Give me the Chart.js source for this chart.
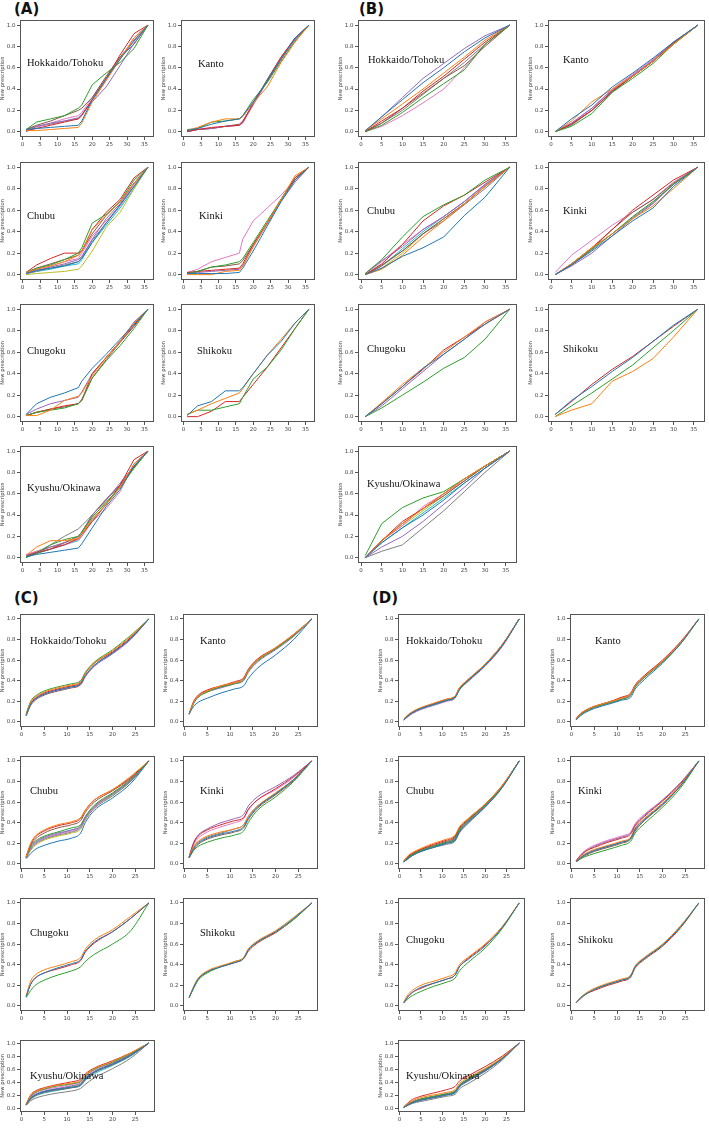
<!DOCTYPE html>
<html>
<head>
<meta charset="utf-8">
<script src="https://cdn.jsdelivr.net/npm/chart.js@4.4.1/dist/chart.umd.min.js"></script>
<style>
  body { margin: 0; background: #fff; width: 709px; height: 1128px; position: relative; overflow: hidden; }
  canvas { position: absolute; }
  .tag { position: absolute; font: bold 15px "DejaVu Sans", sans-serif; color: #111; }
</style>
</head>
<body>
<div class="tag" style="left:14px;top:0px">(A)</div>
<div class="tag" style="left:359px;top:0px">(B)</div>
<div class="tag" style="left:14px;top:589px">(C)</div>
<div class="tag" style="left:372px;top:589px">(D)</div>
<script>
// matplotlib default colour cycle
const TAB = ["#1f77b4", "#ff7f0e", "#2ca02c", "#d62728", "#9467bd", "#8c564b", "#e377c2", "#7f7f7f", "#bcbd22", "#17becf"];

const xA = [1, 4, 8, 12, 16, 17, 20, 24, 28, 32, 36];
const xB = [1, 5, 10, 15, 20, 25, 30, 36];
const xC = [1, 2, 3, 5, 8, 11, 13, 14, 16, 20, 24, 28];
const xD = xC;

const yTicks = [0, 0.2, 0.4, 0.6, 0.8, 1.0];
const xTicks36 = [0, 5, 10, 15, 20, 25, 30, 35];
const xTicks28 = [0, 5, 10, 15, 20, 25];

// ---- panel A ----
const aHokkaido = [
  [0.02, 0.03, 0.04, 0.05, 0.06, 0.10, 0.30, 0.50, 0.68, 0.85, 1],
  [0.01, 0.01, 0.02, 0.03, 0.04, 0.08, 0.28, 0.48, 0.68, 0.88, 1],
  [0.02, 0.09, 0.12, 0.15, 0.22, 0.25, 0.44, 0.55, 0.65, 0.78, 1],
  [0.01, 0.03, 0.06, 0.09, 0.12, 0.15, 0.30, 0.50, 0.72, 0.92, 1],
  [0.00, 0.05, 0.08, 0.10, 0.13, 0.16, 0.28, 0.42, 0.62, 0.83, 1],
  [0.02, 0.06, 0.10, 0.15, 0.20, 0.22, 0.32, 0.52, 0.70, 0.82, 1],
  [0.00, 0.04, 0.08, 0.12, 0.15, 0.18, 0.32, 0.50, 0.68, 0.88, 1],
  [0.02, 0.05, 0.07, 0.10, 0.12, 0.16, 0.30, 0.48, 0.70, 0.86, 1]
];
const aKanto = [
  [0.01, 0.03, 0.07, 0.10, 0.12, 0.15, 0.28, 0.48, 0.68, 0.88, 1],
  [0.01, 0.04, 0.09, 0.12, 0.12, 0.14, 0.27, 0.42, 0.65, 0.84, 1],
  [0.02, 0.03, 0.09, 0.10, 0.12, 0.15, 0.30, 0.46, 0.66, 0.85, 1],
  [0.00, 0.02, 0.04, 0.05, 0.06, 0.09, 0.27, 0.48, 0.70, 0.88, 1],
  [0.00, 0.02, 0.03, 0.05, 0.06, 0.09, 0.26, 0.47, 0.68, 0.87, 1],
  [0.01, 0.02, 0.03, 0.05, 0.07, 0.10, 0.26, 0.49, 0.70, 0.87, 1],
  [0.00, 0.02, 0.03, 0.05, 0.06, 0.08, 0.25, 0.47, 0.68, 0.86, 1]
];
const aChubu = [
  [0.01, 0.04, 0.06, 0.08, 0.12, 0.15, 0.30, 0.48, 0.65, 0.82, 1],
  [0.02, 0.05, 0.08, 0.12, 0.18, 0.22, 0.42, 0.55, 0.68, 0.85, 1],
  [0.02, 0.06, 0.09, 0.14, 0.20, 0.25, 0.48, 0.56, 0.68, 0.88, 1],
  [0.02, 0.09, 0.15, 0.20, 0.20, 0.22, 0.42, 0.58, 0.70, 0.90, 1],
  [0.01, 0.04, 0.07, 0.10, 0.14, 0.17, 0.33, 0.52, 0.66, 0.85, 1],
  [0.02, 0.06, 0.10, 0.14, 0.18, 0.22, 0.38, 0.55, 0.68, 0.85, 1],
  [0.01, 0.05, 0.08, 0.12, 0.15, 0.20, 0.36, 0.50, 0.64, 0.84, 1],
  [0.01, 0.03, 0.06, 0.09, 0.12, 0.16, 0.32, 0.48, 0.64, 0.82, 1],
  [0.00, 0.01, 0.02, 0.03, 0.05, 0.08, 0.22, 0.44, 0.58, 0.80, 1],
  [0.01, 0.03, 0.05, 0.08, 0.10, 0.14, 0.30, 0.46, 0.62, 0.80, 1]
];
const aKinki = [
  [0.01, 0.01, 0.01, 0.01, 0.02, 0.06, 0.22, 0.45, 0.68, 0.88, 1],
  [0.00, 0.00, 0.00, 0.03, 0.04, 0.08, 0.26, 0.48, 0.70, 0.92, 1],
  [0.01, 0.03, 0.07, 0.09, 0.12, 0.15, 0.30, 0.50, 0.70, 0.88, 1],
  [0.02, 0.03, 0.04, 0.05, 0.06, 0.10, 0.28, 0.48, 0.70, 0.90, 1],
  [0.02, 0.02, 0.03, 0.04, 0.05, 0.08, 0.26, 0.47, 0.68, 0.86, 1],
  [0.01, 0.03, 0.07, 0.08, 0.10, 0.13, 0.28, 0.48, 0.70, 0.90, 1],
  [0.02, 0.05, 0.12, 0.16, 0.20, 0.33, 0.50, 0.62, 0.74, 0.88, 1]
];
const aChugoku = [
  [0.02, 0.12, 0.18, 0.22, 0.27, 0.33, 0.45, 0.58, 0.72, 0.86, 1],
  [0.01, 0.01, 0.06, 0.15, 0.19, 0.22, 0.38, 0.55, 0.70, 0.87, 1],
  [0.01, 0.04, 0.06, 0.08, 0.12, 0.16, 0.36, 0.52, 0.66, 0.82, 1],
  [0.01, 0.04, 0.07, 0.10, 0.12, 0.15, 0.40, 0.55, 0.70, 0.85, 1],
  [0.02, 0.07, 0.12, 0.15, 0.18, 0.23, 0.40, 0.55, 0.70, 0.88, 1],
  [0.01, 0.04, 0.07, 0.09, 0.12, 0.15, 0.36, 0.53, 0.69, 0.84, 1]
];
const aShikoku = [
  [0.01, 0.10, 0.14, 0.24, 0.24, 0.27, 0.40, 0.57, 0.70, 0.87, 1],
  [0.02, 0.06, 0.12, 0.17, 0.22, 0.26, 0.40, 0.57, 0.72, 0.87, 1],
  [0.02, 0.06, 0.06, 0.09, 0.12, 0.18, 0.35, 0.46, 0.62, 0.82, 1],
  [0.00, 0.00, 0.05, 0.14, 0.14, 0.18, 0.30, 0.46, 0.64, 0.82, 1]
];
const aKyushu = [
  [0.01, 0.03, 0.05, 0.07, 0.09, 0.13, 0.28, 0.48, 0.64, 0.86, 1],
  [0.02, 0.10, 0.16, 0.16, 0.18, 0.22, 0.36, 0.50, 0.66, 0.88, 1],
  [0.00, 0.04, 0.12, 0.17, 0.20, 0.24, 0.38, 0.52, 0.66, 0.84, 1],
  [0.01, 0.05, 0.08, 0.12, 0.18, 0.22, 0.34, 0.50, 0.68, 0.92, 1],
  [0.02, 0.05, 0.10, 0.14, 0.20, 0.24, 0.40, 0.54, 0.70, 0.86, 1],
  [0.01, 0.04, 0.08, 0.14, 0.20, 0.24, 0.40, 0.55, 0.68, 0.85, 1],
  [0.03, 0.06, 0.10, 0.12, 0.17, 0.20, 0.34, 0.46, 0.62, 0.88, 1],
  [0.02, 0.05, 0.12, 0.20, 0.27, 0.30, 0.40, 0.54, 0.68, 0.86, 1],
  [0.02, 0.06, 0.10, 0.14, 0.18, 0.22, 0.38, 0.52, 0.66, 0.84, 1],
  [0.01, 0.04, 0.08, 0.12, 0.16, 0.20, 0.36, 0.50, 0.66, 0.85, 1]
];

// ---- panel B ----
const bHokkaido = [
  [0.01, 0.14, 0.30, 0.46, 0.60, 0.75, 0.88, 1],
  [0.01, 0.12, 0.26, 0.40, 0.55, 0.70, 0.86, 1],
  [0.00, 0.06, 0.18, 0.32, 0.45, 0.58, 0.82, 1],
  [0.00, 0.10, 0.22, 0.38, 0.52, 0.68, 0.84, 1],
  [0.00, 0.14, 0.32, 0.50, 0.64, 0.78, 0.90, 1],
  [0.00, 0.08, 0.22, 0.36, 0.50, 0.62, 0.80, 1],
  [0.00, 0.05, 0.15, 0.27, 0.40, 0.60, 0.82, 1],
  [0.00, 0.08, 0.20, 0.35, 0.50, 0.65, 0.82, 1]
];
const bKanto = [
  [0.00, 0.12, 0.25, 0.42, 0.55, 0.69, 0.84, 1],
  [0.00, 0.10, 0.28, 0.40, 0.52, 0.66, 0.82, 1],
  [0.00, 0.05, 0.17, 0.37, 0.50, 0.64, 0.82, 1],
  [0.00, 0.07, 0.20, 0.38, 0.52, 0.66, 0.83, 1],
  [0.00, 0.08, 0.22, 0.39, 0.53, 0.67, 0.84, 1],
  [0.00, 0.07, 0.20, 0.37, 0.52, 0.66, 0.83, 1],
  [0.00, 0.08, 0.22, 0.40, 0.54, 0.68, 0.84, 1],
  [0.00, 0.06, 0.20, 0.38, 0.52, 0.66, 0.82, 1]
];
const bChubu = [
  [0.00, 0.06, 0.17, 0.25, 0.35, 0.55, 0.72, 1],
  [0.00, 0.05, 0.18, 0.35, 0.50, 0.66, 0.82, 1],
  [0.01, 0.14, 0.35, 0.54, 0.65, 0.74, 0.88, 1],
  [0.00, 0.10, 0.28, 0.50, 0.64, 0.74, 0.86, 1],
  [0.01, 0.13, 0.26, 0.42, 0.54, 0.68, 0.84, 1],
  [0.00, 0.09, 0.22, 0.38, 0.52, 0.66, 0.82, 1],
  [0.01, 0.12, 0.28, 0.42, 0.54, 0.68, 0.83, 1],
  [0.00, 0.08, 0.22, 0.38, 0.50, 0.65, 0.80, 1],
  [0.00, 0.06, 0.20, 0.38, 0.52, 0.66, 0.82, 1],
  [0.00, 0.08, 0.24, 0.40, 0.54, 0.68, 0.84, 1]
];
const bKinki = [
  [0.00, 0.09, 0.22, 0.36, 0.50, 0.62, 0.82, 1],
  [0.00, 0.10, 0.25, 0.38, 0.52, 0.64, 0.80, 1],
  [0.00, 0.10, 0.24, 0.38, 0.54, 0.68, 0.84, 1],
  [0.00, 0.10, 0.25, 0.42, 0.60, 0.74, 0.88, 1],
  [0.00, 0.08, 0.20, 0.36, 0.52, 0.66, 0.84, 1],
  [0.00, 0.09, 0.24, 0.42, 0.58, 0.70, 0.85, 1],
  [0.02, 0.18, 0.32, 0.46, 0.58, 0.70, 0.86, 1],
  [0.00, 0.09, 0.23, 0.38, 0.53, 0.67, 0.84, 1]
];
const bChugoku = [
  [0.00, 0.12, 0.28, 0.45, 0.58, 0.72, 0.86, 1],
  [0.00, 0.13, 0.30, 0.45, 0.60, 0.74, 0.88, 1],
  [0.00, 0.08, 0.20, 0.32, 0.45, 0.55, 0.72, 1],
  [0.00, 0.12, 0.28, 0.44, 0.62, 0.74, 0.86, 1],
  [0.00, 0.10, 0.26, 0.42, 0.58, 0.72, 0.88, 1]
];
const bShikoku = [
  [0.02, 0.15, 0.28, 0.42, 0.55, 0.70, 0.85, 1],
  [0.00, 0.06, 0.12, 0.33, 0.42, 0.54, 0.74, 1],
  [0.00, 0.10, 0.22, 0.35, 0.48, 0.64, 0.80, 1],
  [0.02, 0.14, 0.30, 0.44, 0.56, 0.70, 0.84, 1]
];
const bKyushu = [
  [0.00, 0.14, 0.28, 0.40, 0.54, 0.70, 0.84, 1],
  [0.00, 0.16, 0.32, 0.46, 0.60, 0.74, 0.86, 1],
  [0.02, 0.32, 0.47, 0.56, 0.62, 0.74, 0.86, 1],
  [0.00, 0.16, 0.34, 0.46, 0.60, 0.74, 0.86, 1],
  [0.00, 0.10, 0.20, 0.34, 0.50, 0.66, 0.84, 1],
  [0.00, 0.16, 0.32, 0.46, 0.58, 0.72, 0.86, 1],
  [0.00, 0.16, 0.30, 0.48, 0.60, 0.72, 0.86, 1],
  [0.00, 0.06, 0.12, 0.28, 0.44, 0.62, 0.80, 1],
  [0.00, 0.16, 0.30, 0.44, 0.58, 0.72, 0.86, 1],
  [0.00, 0.14, 0.28, 0.42, 0.56, 0.70, 0.84, 1]
];

// ---- panel C ----
const cHokkaido = [
  [0.06, 0.17, 0.22, 0.27, 0.31, 0.34, 0.37, 0.45, 0.55, 0.67, 0.81, 1],
  [0.07, 0.19, 0.24, 0.29, 0.33, 0.36, 0.39, 0.47, 0.57, 0.69, 0.83, 1],
  [0.08, 0.20, 0.25, 0.30, 0.34, 0.37, 0.40, 0.48, 0.58, 0.70, 0.84, 1],
  [0.07, 0.18, 0.23, 0.28, 0.32, 0.35, 0.38, 0.47, 0.57, 0.68, 0.82, 1],
  [0.06, 0.17, 0.22, 0.27, 0.31, 0.34, 0.37, 0.44, 0.54, 0.66, 0.80, 1],
  [0.06, 0.16, 0.21, 0.26, 0.30, 0.33, 0.36, 0.44, 0.55, 0.67, 0.81, 1]
];
const cKanto = [
  [0.08, 0.15, 0.19, 0.23, 0.28, 0.32, 0.35, 0.42, 0.52, 0.65, 0.80, 1],
  [0.08, 0.19, 0.25, 0.30, 0.35, 0.38, 0.42, 0.50, 0.60, 0.72, 0.85, 1],
  [0.08, 0.18, 0.24, 0.29, 0.34, 0.37, 0.41, 0.49, 0.59, 0.71, 0.84, 1],
  [0.08, 0.20, 0.26, 0.31, 0.35, 0.39, 0.43, 0.51, 0.61, 0.72, 0.85, 1],
  [0.07, 0.18, 0.24, 0.29, 0.33, 0.37, 0.40, 0.48, 0.58, 0.70, 0.83, 1],
  [0.08, 0.19, 0.25, 0.30, 0.34, 0.38, 0.42, 0.50, 0.60, 0.71, 0.84, 1]
];
const cChubu = [
  [0.05, 0.10, 0.14, 0.18, 0.22, 0.25, 0.30, 0.40, 0.52, 0.64, 0.78, 1],
  [0.07, 0.20, 0.27, 0.33, 0.38, 0.41, 0.45, 0.52, 0.62, 0.72, 0.85, 1],
  [0.07, 0.17, 0.22, 0.27, 0.31, 0.35, 0.38, 0.46, 0.57, 0.69, 0.82, 1],
  [0.07, 0.19, 0.26, 0.32, 0.37, 0.40, 0.44, 0.52, 0.62, 0.72, 0.84, 1],
  [0.06, 0.16, 0.21, 0.26, 0.30, 0.33, 0.37, 0.45, 0.56, 0.68, 0.81, 1],
  [0.07, 0.18, 0.24, 0.30, 0.35, 0.38, 0.42, 0.50, 0.60, 0.71, 0.83, 1],
  [0.06, 0.15, 0.20, 0.25, 0.29, 0.32, 0.36, 0.44, 0.55, 0.68, 0.82, 1],
  [0.06, 0.14, 0.19, 0.24, 0.28, 0.31, 0.35, 0.43, 0.54, 0.66, 0.80, 1],
  [0.06, 0.13, 0.18, 0.23, 0.27, 0.30, 0.34, 0.43, 0.55, 0.67, 0.81, 1],
  [0.06, 0.15, 0.20, 0.25, 0.29, 0.33, 0.36, 0.44, 0.55, 0.67, 0.80, 1]
];
const cKinki = [
  [0.06, 0.15, 0.20, 0.25, 0.29, 0.32, 0.36, 0.44, 0.55, 0.68, 0.82, 1],
  [0.07, 0.17, 0.22, 0.27, 0.31, 0.34, 0.38, 0.46, 0.56, 0.69, 0.82, 1],
  [0.06, 0.13, 0.17, 0.21, 0.25, 0.28, 0.32, 0.40, 0.52, 0.65, 0.80, 1],
  [0.07, 0.20, 0.27, 0.33, 0.38, 0.42, 0.45, 0.53, 0.62, 0.73, 0.85, 1],
  [0.07, 0.21, 0.28, 0.34, 0.40, 0.44, 0.48, 0.56, 0.65, 0.75, 0.86, 1],
  [0.06, 0.14, 0.19, 0.24, 0.28, 0.31, 0.35, 0.43, 0.54, 0.67, 0.81, 1],
  [0.07, 0.19, 0.25, 0.31, 0.36, 0.40, 0.44, 0.52, 0.62, 0.72, 0.84, 1],
  [0.06, 0.16, 0.21, 0.26, 0.30, 0.34, 0.38, 0.46, 0.56, 0.68, 0.82, 1]
];
const cChugoku = [
  [0.09, 0.21, 0.27, 0.32, 0.37, 0.41, 0.45, 0.53, 0.62, 0.72, 0.85, 1],
  [0.10, 0.24, 0.30, 0.35, 0.39, 0.43, 0.47, 0.55, 0.64, 0.74, 0.87, 1],
  [0.08, 0.15, 0.20, 0.25, 0.30, 0.34, 0.38, 0.43, 0.50, 0.60, 0.73, 1],
  [0.09, 0.21, 0.27, 0.32, 0.36, 0.40, 0.44, 0.52, 0.61, 0.72, 0.85, 1]
];
const cShikoku = [
  [0.08, 0.18, 0.26, 0.33, 0.38, 0.42, 0.46, 0.54, 0.62, 0.72, 0.85, 1],
  [0.08, 0.19, 0.27, 0.34, 0.39, 0.43, 0.47, 0.55, 0.63, 0.73, 0.86, 1],
  [0.08, 0.17, 0.25, 0.32, 0.38, 0.43, 0.47, 0.55, 0.62, 0.72, 0.84, 1],
  [0.08, 0.18, 0.26, 0.33, 0.38, 0.42, 0.46, 0.53, 0.61, 0.71, 0.84, 1]
];
const cKyushu = [
  [0.06, 0.16, 0.21, 0.26, 0.30, 0.33, 0.37, 0.46, 0.56, 0.68, 0.82, 1],
  [0.07, 0.20, 0.26, 0.31, 0.36, 0.39, 0.43, 0.51, 0.61, 0.72, 0.85, 1],
  [0.07, 0.19, 0.25, 0.30, 0.35, 0.38, 0.42, 0.50, 0.60, 0.71, 0.84, 1],
  [0.07, 0.21, 0.27, 0.32, 0.37, 0.41, 0.45, 0.53, 0.62, 0.73, 0.85, 1],
  [0.06, 0.17, 0.22, 0.27, 0.31, 0.35, 0.39, 0.47, 0.57, 0.69, 0.82, 1],
  [0.06, 0.15, 0.20, 0.25, 0.29, 0.32, 0.36, 0.44, 0.55, 0.67, 0.81, 1],
  [0.07, 0.18, 0.24, 0.29, 0.33, 0.37, 0.41, 0.49, 0.59, 0.70, 0.83, 1],
  [0.05, 0.12, 0.16, 0.20, 0.24, 0.27, 0.31, 0.37, 0.47, 0.61, 0.77, 1],
  [0.06, 0.16, 0.21, 0.26, 0.30, 0.34, 0.38, 0.46, 0.56, 0.68, 0.82, 1],
  [0.06, 0.14, 0.19, 0.24, 0.28, 0.32, 0.35, 0.43, 0.53, 0.66, 0.80, 1]
];

// ---- panel D ----
const dHokkaido = [
  [0.02, 0.06, 0.09, 0.13, 0.17, 0.21, 0.24, 0.31, 0.40, 0.55, 0.74, 1],
  [0.03, 0.07, 0.10, 0.14, 0.18, 0.22, 0.25, 0.33, 0.41, 0.56, 0.75, 1],
  [0.02, 0.06, 0.09, 0.13, 0.17, 0.21, 0.24, 0.32, 0.40, 0.55, 0.74, 1],
  [0.02, 0.06, 0.09, 0.13, 0.18, 0.22, 0.25, 0.33, 0.41, 0.56, 0.75, 1],
  [0.02, 0.05, 0.08, 0.12, 0.16, 0.20, 0.23, 0.31, 0.39, 0.54, 0.73, 1],
  [0.02, 0.06, 0.09, 0.13, 0.17, 0.21, 0.24, 0.32, 0.40, 0.55, 0.74, 1]
];
const dKanto = [
  [0.02, 0.06, 0.09, 0.13, 0.17, 0.21, 0.24, 0.32, 0.41, 0.57, 0.76, 1],
  [0.03, 0.08, 0.11, 0.15, 0.19, 0.23, 0.27, 0.35, 0.44, 0.59, 0.77, 1],
  [0.02, 0.07, 0.10, 0.14, 0.18, 0.22, 0.26, 0.34, 0.43, 0.58, 0.76, 1],
  [0.03, 0.08, 0.11, 0.15, 0.19, 0.24, 0.28, 0.36, 0.45, 0.60, 0.78, 1],
  [0.02, 0.07, 0.10, 0.14, 0.18, 0.22, 0.26, 0.34, 0.43, 0.58, 0.77, 1],
  [0.03, 0.08, 0.11, 0.15, 0.19, 0.23, 0.27, 0.35, 0.44, 0.59, 0.77, 1]
];
const dChubu = [
  [0.02, 0.05, 0.08, 0.12, 0.16, 0.20, 0.23, 0.31, 0.40, 0.55, 0.74, 1],
  [0.03, 0.08, 0.11, 0.15, 0.20, 0.24, 0.28, 0.36, 0.44, 0.58, 0.76, 1],
  [0.02, 0.06, 0.09, 0.13, 0.17, 0.21, 0.25, 0.33, 0.42, 0.57, 0.75, 1],
  [0.03, 0.07, 0.10, 0.14, 0.19, 0.23, 0.27, 0.35, 0.43, 0.58, 0.76, 1],
  [0.02, 0.06, 0.09, 0.13, 0.17, 0.21, 0.24, 0.32, 0.41, 0.56, 0.75, 1],
  [0.02, 0.07, 0.10, 0.14, 0.18, 0.22, 0.26, 0.34, 0.42, 0.57, 0.75, 1],
  [0.02, 0.06, 0.09, 0.13, 0.17, 0.21, 0.25, 0.33, 0.42, 0.57, 0.76, 1],
  [0.02, 0.05, 0.08, 0.12, 0.16, 0.19, 0.22, 0.30, 0.39, 0.55, 0.74, 1],
  [0.02, 0.05, 0.08, 0.12, 0.16, 0.20, 0.23, 0.31, 0.40, 0.56, 0.75, 1],
  [0.02, 0.06, 0.09, 0.13, 0.17, 0.20, 0.24, 0.32, 0.41, 0.56, 0.75, 1]
];
const dKinki = [
  [0.02, 0.06, 0.09, 0.13, 0.17, 0.21, 0.25, 0.34, 0.43, 0.58, 0.76, 1],
  [0.02, 0.07, 0.10, 0.14, 0.18, 0.22, 0.26, 0.35, 0.44, 0.59, 0.77, 1],
  [0.02, 0.05, 0.07, 0.10, 0.14, 0.18, 0.22, 0.30, 0.39, 0.55, 0.74, 1],
  [0.03, 0.08, 0.12, 0.16, 0.21, 0.25, 0.29, 0.37, 0.46, 0.61, 0.78, 1],
  [0.03, 0.08, 0.12, 0.17, 0.22, 0.26, 0.30, 0.38, 0.47, 0.62, 0.79, 1],
  [0.02, 0.05, 0.08, 0.12, 0.16, 0.20, 0.24, 0.32, 0.42, 0.57, 0.76, 1],
  [0.03, 0.09, 0.13, 0.18, 0.23, 0.27, 0.31, 0.39, 0.48, 0.62, 0.79, 1],
  [0.02, 0.06, 0.09, 0.13, 0.17, 0.21, 0.25, 0.33, 0.42, 0.58, 0.76, 1]
];
const dChugoku = [
  [0.03, 0.09, 0.13, 0.18, 0.22, 0.26, 0.30, 0.38, 0.45, 0.58, 0.76, 1],
  [0.04, 0.11, 0.15, 0.20, 0.24, 0.28, 0.32, 0.40, 0.47, 0.60, 0.77, 1],
  [0.03, 0.07, 0.10, 0.14, 0.19, 0.23, 0.27, 0.34, 0.42, 0.56, 0.75, 1],
  [0.03, 0.09, 0.13, 0.17, 0.22, 0.26, 0.30, 0.38, 0.46, 0.59, 0.76, 1]
];
const dShikoku = [
  [0.03, 0.08, 0.11, 0.16, 0.21, 0.25, 0.29, 0.38, 0.46, 0.59, 0.77, 1],
  [0.03, 0.08, 0.12, 0.17, 0.22, 0.26, 0.30, 0.39, 0.47, 0.60, 0.78, 1],
  [0.03, 0.08, 0.11, 0.16, 0.21, 0.25, 0.29, 0.38, 0.46, 0.59, 0.77, 1],
  [0.03, 0.07, 0.11, 0.15, 0.20, 0.24, 0.28, 0.37, 0.45, 0.58, 0.76, 1]
];
const dKyushu = [
  [0.02, 0.06, 0.09, 0.13, 0.17, 0.21, 0.25, 0.34, 0.43, 0.58, 0.76, 1],
  [0.03, 0.08, 0.12, 0.17, 0.21, 0.25, 0.29, 0.38, 0.47, 0.61, 0.78, 1],
  [0.02, 0.07, 0.10, 0.15, 0.19, 0.23, 0.27, 0.36, 0.45, 0.60, 0.77, 1],
  [0.03, 0.09, 0.14, 0.19, 0.24, 0.29, 0.34, 0.42, 0.50, 0.64, 0.80, 1],
  [0.02, 0.06, 0.09, 0.13, 0.17, 0.21, 0.25, 0.33, 0.42, 0.57, 0.76, 1],
  [0.02, 0.06, 0.10, 0.14, 0.18, 0.22, 0.26, 0.35, 0.44, 0.59, 0.77, 1],
  [0.02, 0.07, 0.11, 0.15, 0.19, 0.23, 0.27, 0.36, 0.45, 0.60, 0.77, 1],
  [0.02, 0.05, 0.08, 0.11, 0.15, 0.19, 0.22, 0.30, 0.38, 0.54, 0.74, 1],
  [0.02, 0.06, 0.09, 0.13, 0.17, 0.21, 0.25, 0.34, 0.43, 0.58, 0.76, 1],
  [0.02, 0.06, 0.09, 0.13, 0.17, 0.21, 0.24, 0.33, 0.42, 0.57, 0.76, 1]
];

// frame boxes [left, top, right, bottom] in page pixels, and title offsets
const rowsAB = [[19, 137], [161, 280], [303, 422], [445, 563]];
const rowsCD = [[613, 727], [755, 869], [897, 1011], [1039, 1112]];
const colsA = [[20, 154], [181, 315]];
const colsB = [[358, 517], [548, 705]];
const colsC = [[20, 155], [183, 318]];
const colsD = [[398, 525], [570, 705]];

const names = ["Hokkaido/Tohoku", "Kanto", "Chubu", "Kinki", "Chugoku", "Shikoku", "Kyushu/Okinawa"];
const panels = [
  { xs: xA, cols: colsA, rows: rowsAB, x: [-0.75, 37.75], xt: xTicks36, smooth: false,
    sets: [aHokkaido, aKanto, aChubu, aKinki, aChugoku, aShikoku, aKyushu],
    pos: [[7, 43], [17, 44], [7, 54], [18, 54], [7, 47], [16, 47], [7, 42]] },
  { xs: xB, cols: colsB, rows: rowsAB, x: [-0.75, 37.75], xt: xTicks36, smooth: false,
    sets: [bHokkaido, bKanto, bChubu, bKinki, bChugoku, bShikoku, bKyushu],
    pos: [[10, 40], [15, 40], [9, 49], [15, 49], [9, 45], [15, 45], [9, 38]] },
  { xs: xC, cols: colsC, rows: rowsCD, x: [-0.35, 29.35], xt: xTicks28, smooth: true,
    sets: [cHokkaido, cKanto, cChubu, cKinki, cChugoku, cShikoku, cKyushu],
    pos: [[10, 27], [17, 27], [10, 35], [17, 35], [10, 35], [17, 35], [10, 36]] },
  { xs: xD, cols: colsD, rows: rowsCD, x: [-0.35, 29.35], xt: xTicks28, smooth: true,
    sets: [dHokkaido, dKanto, dChubu, dKinki, dChugoku, dShikoku, dKyushu],
    pos: [[8, 27], [25, 27], [8, 35], [8, 35], [8, 42], [8, 42], [8, 36]] }
];

// draws the matplotlib box round the axes and the region name
const framePlugin = {
  id: "frame",
  afterDraw(chart, args, opts) {
    const { ctx, chartArea: a } = chart;
    ctx.save();
    ctx.strokeStyle = "#555";
    ctx.lineWidth = 1;
    ctx.strokeRect(Math.round(a.left) + 0.5, Math.round(a.top) + 0.5,
      Math.round(a.right - a.left) - 1, Math.round(a.bottom - a.top) - 1);
    ctx.fillStyle = "#111";
    ctx.font = '10.5px "Liberation Serif", serif';
    ctx.textBaseline = "middle";
    ctx.fillText(opts.title, a.left + opts.dx, a.top + opts.dy);
    ctx.restore();
  }
};

const PADL = 20, PADT = 4, PADR = 4, PADB = 14;

function makePlot(p, idx) {
  const [L, R] = p.cols[idx % 2];
  const [T, B] = p.rows[Math.floor(idx / 2)];
  const cv = document.createElement("canvas");
  const w = R - L + PADL + PADR, h = B - T + PADT + PADB;
  cv.width = w; cv.height = h;
  cv.style.left = (L - PADL) + "px";
  cv.style.top = (T - PADT) + "px";
  cv.style.width = w + "px"; cv.style.height = h + "px";
  document.body.appendChild(cv);

  const datasets = p.sets[idx].map((ys, i) => ({
    data: ys.map((y, j) => ({ x: p.xs[j], y: y })),
    borderColor: TAB[i],
    borderWidth: 1,
    pointRadius: 0,
    fill: false,
    tension: p.smooth ? 0.4 : 0,
    cubicInterpolationMode: p.smooth ? "monotone" : "default"
  }));

  new Chart(cv, {
    type: "line",
    data: { datasets },
    options: {
      responsive: false,
      animation: false,
      events: [],
      layout: { padding: { left: 0, top: PADT, right: PADR, bottom: 0 } },
      plugins: {
        legend: { display: false },
        tooltip: { enabled: false },
        frame: { title: names[idx], dx: p.pos[idx][0], dy: p.pos[idx][1] }
      },
      scales: {
        x: {
          type: "linear",
          min: p.x[0],
          max: p.x[1],
          afterBuildTicks: (s) => { s.ticks = p.xt.map((v) => ({ value: v })); },
          afterFit: (s) => { s.height = PADB; },
          grid: { drawOnChartArea: false, tickLength: 3, color: "#555" },
          border: { display: false },
          ticks: { font: { size: 5.5, family: "DejaVu Sans" }, color: "#444", padding: 1.5, maxRotation: 0, autoSkip: false }
        },
        y: {
          min: -0.05,
          max: 1.05,
          afterBuildTicks: (s) => { s.ticks = yTicks.map((v) => ({ value: v })); },
          afterFit: (s) => { s.width = PADL; },
          grid: { drawOnChartArea: false, tickLength: 3, color: "#555" },
          border: { display: false },
          title: { display: true, text: "New prescription", font: { size: 5.2, family: "DejaVu Sans" }, color: "#444", padding: 0 },
          ticks: { font: { size: 5.5, family: "DejaVu Sans" }, color: "#444", padding: 1.5, callback: (v) => v.toFixed(1) }
        }
      }
    },
    plugins: [framePlugin]
  });
}

panels.forEach((p) => {
  for (let i = 0; i < 7; i++) makePlot(p, i);
});
</script>
</body>
</html>
